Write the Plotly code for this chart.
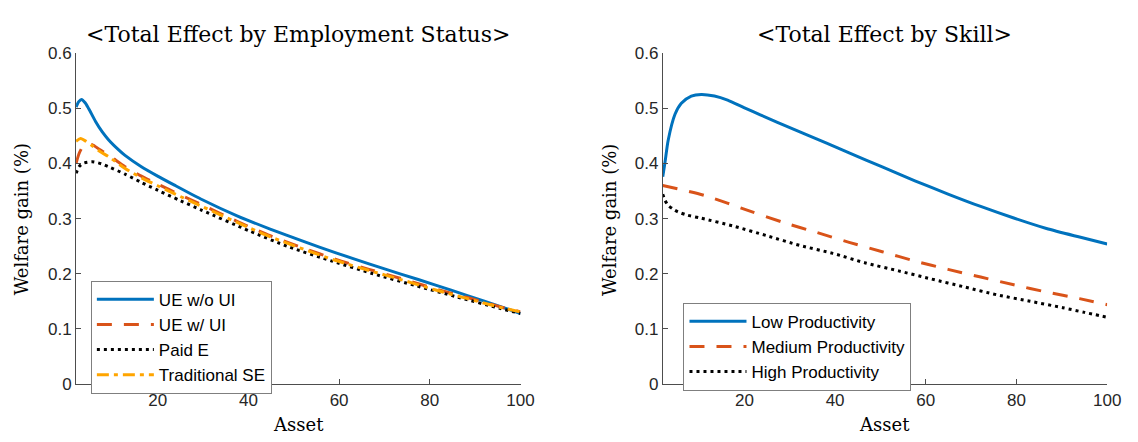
import plotly.graph_objects as go

# ---------------- Left panel: Total Effect by Employment Status ----------------
asset_ue_noui = [2, 2.6, 3.2, 4.0, 4.8, 6.3, 7.7, 9.2, 11.4, 12.8, 16.4, 20.1, 23.7, 29.5, 37.5, 44.8, 52, 59.3, 66.6, 73.8, 81.1, 88.3, 95.6, 100]
gain_ue_noui = [0.502, 0.512, 0.516, 0.510, 0.499, 0.476, 0.458, 0.4425, 0.4245, 0.4145, 0.394, 0.3765, 0.3605, 0.3355, 0.305, 0.281, 0.259, 0.238, 0.218, 0.199, 0.180, 0.1605, 0.1405, 0.128]

asset_ue_ui = [2, 2.65, 3.3, 4.2, 5.55, 7.2, 9.2, 12.8, 16.4, 20.1, 25, 29.5, 37.5, 44.8, 52, 59.3, 66.6, 73.8, 81.1, 88.3, 95.6, 100]
gain_ue_ui = [0.400, 0.4175, 0.428, 0.434, 0.434, 0.425, 0.415, 0.394, 0.377, 0.362, 0.343, 0.326, 0.295, 0.269, 0.247, 0.226, 0.208, 0.191, 0.173, 0.157, 0.140, 0.131]

asset_paid = [2, 2.65, 3.5, 5.55, 7.7, 9.2, 12.8, 16.4, 20.1, 25, 29.5, 40.4, 49, 58.6, 67.5, 77.1, 86, 95.6, 100]
gain_paid = [0.382, 0.394, 0.400, 0.403, 0.399, 0.394, 0.3805, 0.3655, 0.351, 0.3325, 0.316, 0.277, 0.2485, 0.2225, 0.200, 0.178, 0.158, 0.137, 0.128]

asset_trad = [2, 3.0, 4.2, 5.55, 7.2, 9.2, 12.8, 16.4, 20.1, 25, 29.5, 37.5, 44.8, 52, 59.3, 66.6, 73.8, 81.1, 88.3, 95.6, 100]
gain_trad = [0.440, 0.445, 0.440, 0.432, 0.422, 0.412, 0.391, 0.374, 0.359, 0.340, 0.323, 0.293, 0.267, 0.245, 0.224, 0.206, 0.189, 0.171, 0.155, 0.139, 0.131]

# ---------------- Right panel: Total Effect by Skill ----------------
asset_low = [2, 2.5, 3.2, 4.7, 6.1, 8.3, 10.5, 13.4, 16.3, 19.9, 23.5, 30.8, 38.0, 43.1, 50.4, 57.6, 64.9, 72.1, 79.4, 86.6, 93.9, 100]
gain_low = [0.376, 0.402, 0.442, 0.489, 0.509, 0.522, 0.525, 0.522, 0.5145, 0.501, 0.488, 0.462, 0.437, 0.419, 0.3935, 0.3685, 0.3445, 0.322, 0.301, 0.282, 0.2665, 0.254]

asset_med = [2, 11.2, 21.4, 28.6, 35.9, 43.1, 50.4, 57.6, 64.9, 72.1, 79.4, 86.6, 93.9, 100]
gain_med = [0.360, 0.342, 0.313, 0.293, 0.275, 0.257, 0.240, 0.223, 0.208, 0.194, 0.180, 0.167, 0.155, 0.144]

asset_high = [2, 2.5, 3.2, 4.3, 5.4, 7.5, 10.5, 17.7, 25, 32.2, 39.5, 46.7, 54, 61.2, 68.5, 75.7, 83, 90.2, 95, 100]
gain_high = [0.344, 0.333, 0.324, 0.317, 0.312, 0.306, 0.3007, 0.2861, 0.2688, 0.2514, 0.237, 0.2196, 0.2052, 0.1906, 0.1762, 0.1618, 0.1502, 0.1385, 0.130, 0.1212]

y_ticks = [0, 0.1, 0.2, 0.3, 0.4, 0.5, 0.6]
y_tick_labels = ["0", "0.1", "0.2", "0.3", "0.4", "0.5", "0.6"]
x_ticks = [20, 40, 60, 80, 100]

BLUE = "#0072BD"
ORANGE = "#D95319"
YELLOW = "#FFA500"
BLACK = "#000000"
LW = 3

fig = go.Figure()

def add(x, y, name, color, dash, xaxis, yaxis, legend):
    fig.add_trace(go.Scatter(
        x=x, y=y, name=name, mode="lines",
        line=dict(color=color, width=LW, dash=dash, shape="spline", smoothing=0.7),
        xaxis=xaxis, yaxis=yaxis, legend=legend))

add(asset_ue_noui, gain_ue_noui, "UE w/o UI", BLUE, "solid", "x", "y", "legend")
add(asset_ue_ui, gain_ue_ui, "UE w/ UI", ORANGE, "15px,12px", "x", "y", "legend")
add(asset_paid, gain_paid, "Paid E", BLACK, "3px,4px", "x", "y", "legend")
add(asset_trad, gain_trad, "Traditional SE", YELLOW, "12px,5px,4px,5px", "x", "y", "legend")

add(asset_low, gain_low, "Low Productivity", BLUE, "solid", "x2", "y2", "legend2")
add(asset_med, gain_med, "Medium Productivity", ORANGE, "15px,12px", "x2", "y2", "legend2")
add(asset_high, gain_high, "High Productivity", BLACK, "3px,4px", "x2", "y2", "legend2")

W, H = 1138, 442
AX_COLOR = "#4d4d4d"
TICK_FONT = dict(family="Liberation Sans, Arial, sans-serif", size=17, color="#262626")
LEG_FONT = dict(family="Liberation Sans, Arial, sans-serif", size=17, color="#000000")

def xaxis(domain, anchor):
    return dict(domain=domain, anchor=anchor, range=[2, 100], tickvals=x_ticks,
                ticks="inside", ticklen=5, tickcolor=AX_COLOR, showline=True,
                linecolor=AX_COLOR, linewidth=1, showgrid=False, zeroline=False,
                tickfont=TICK_FONT, mirror=False)

def yaxis(domain, anchor):
    return dict(domain=domain, anchor=anchor, range=[0, 0.6], tickvals=y_ticks,
                ticktext=y_tick_labels, ticks="inside", ticklen=5, tickcolor=AX_COLOR,
                showline=True, linecolor=AX_COLOR, linewidth=1, showgrid=False,
                zeroline=False, tickfont=TICK_FONT, mirror=False)

ydom = [1 - 392 / H, 1 - 46 / H]
fig.update_layout(
    width=W, height=H, margin=dict(l=0, r=0, t=0, b=0),
    paper_bgcolor="white", plot_bgcolor="white",
    xaxis=xaxis([77 / W, 527 / W], "y"),
    yaxis=yaxis(ydom, "x"),
    xaxis2=xaxis([671 / W, 1121 / W], "y2"),
    yaxis2=yaxis(ydom, "x2"),
    legend=dict(x=92 / W, y=1 - 284 / H, xanchor="left", yanchor="top",
                bordercolor="#7f7f7f", borderwidth=1, bgcolor="white",
                font=LEG_FONT, itemwidth=57, tracegroupgap=0),
    legend2=dict(x=692 / W, y=1 - 307 / H, xanchor="left", yanchor="top",
                 bordercolor="#7f7f7f", borderwidth=1, bgcolor="white",
                 font=LEG_FONT, itemwidth=57, tracegroupgap=0),
    showlegend=True,
)

SERIF = "DejaVu Serif, serif"
annots = [
    dict(text="&lt;Total Effect by Employment Status&gt;", x=302 / W, y=1 - 27 / H, size=22, angle=0),
    dict(text="&lt;Total Effect by Skill&gt;", x=896 / W, y=1 - 27 / H, size=22, angle=0),
    dict(text="Welfare gain (%)", x=22 / W, y=1 - 220 / H, size=18, angle=-90),
    dict(text="Welfare gain (%)", x=617 / W, y=1 - 220 / H, size=18, angle=-90),
    dict(text="Asset", x=302 / W, y=1 - 434 / H, size=18, angle=0),
    dict(text="Asset", x=896 / W, y=1 - 434 / H, size=18, angle=0),
]
for a in annots:
    fig.add_annotation(text=a["text"], x=a["x"], y=a["y"], xref="paper", yref="paper",
                       xanchor="center", yanchor="middle", showarrow=False,
                       textangle=a["angle"],
                       font=dict(family=SERIF, size=a["size"], color="#000000"))

fig.write_html("out.html")
